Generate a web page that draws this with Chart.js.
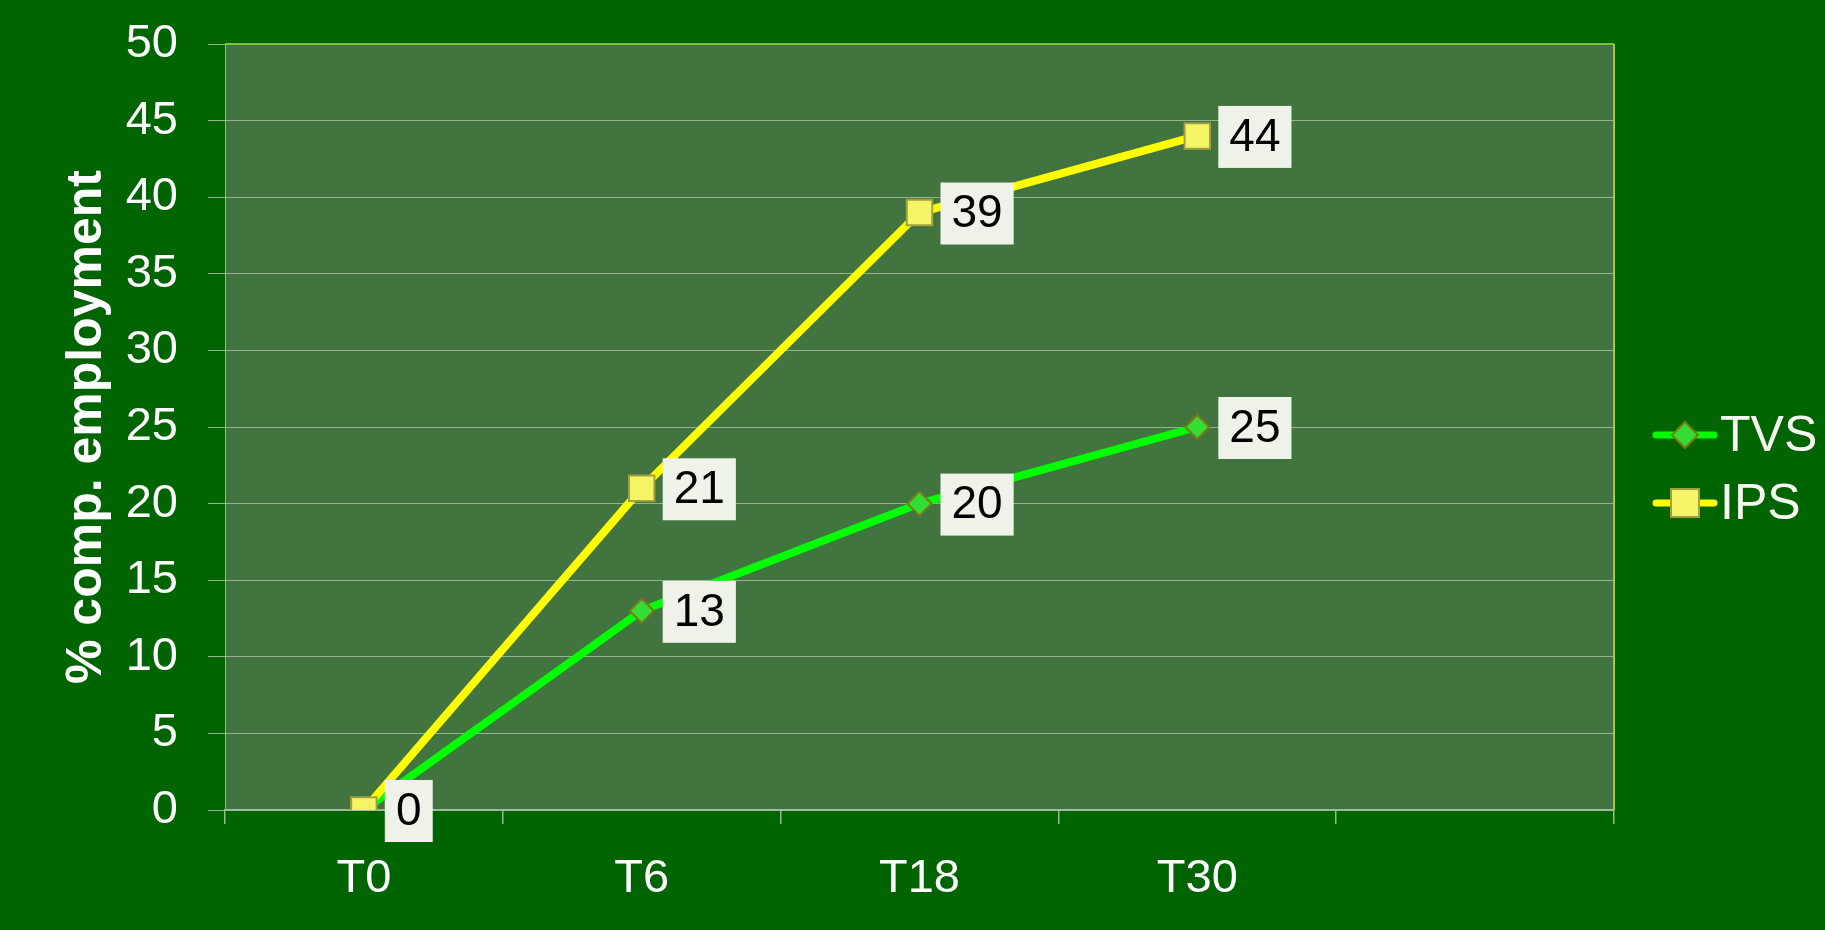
<!DOCTYPE html>
<html>
<head>
<meta charset="utf-8">
<script src="https://cdn.jsdelivr.net/npm/chart.js@4.4.1/dist/chart.umd.min.js"></script>
<style>
  html, body { margin: 0; padding: 0; background: #006400; }
  #wrap { width: 1825px; height: 930px; position: relative; }
</style>
</head>
<body>
<div id="wrap"><canvas id="c"></canvas></div>
<script>
const categories = ['T0', 'T6', 'T18', 'T30', ''];
const tvsValues = [0, 13, 20, 25, null];
const ipsValues = [0, 21, 39, 44, null];
const seriesNames = ['TVS', 'IPS'];
const yAxisTitle = '% comp. employment';

const FONT = '"Liberation Sans", Arial, sans-serif';

const bgPlugin = {
  id: 'bg',
  beforeDraw(chart) {
    const { ctx, chartArea: a } = chart;
    ctx.save();
    ctx.fillStyle = '#006400';
    ctx.fillRect(0, 0, chart.width, chart.height);
    ctx.fillStyle = '#427440';
    ctx.fillRect(a.left, a.top, a.right - a.left, a.bottom - a.top);
    ctx.restore();
  },
  afterDraw(chart) {
    const { ctx, chartArea: a } = chart;
    ctx.save();
    ctx.lineWidth = 2;
    ctx.strokeStyle = '#7cc43c';
    ctx.beginPath();
    ctx.moveTo(a.left, a.top);
    ctx.lineTo(a.right, a.top);
    ctx.stroke();
    ctx.strokeStyle = '#a8c63a';
    ctx.beginPath();
    ctx.moveTo(a.right, a.top);
    ctx.lineTo(a.right, a.bottom);
    ctx.stroke();
    ctx.restore();
  }
};

const labelPlugin = {
  id: 'boxLabels',
  afterDatasetsDraw(chart) {
    const ctx = chart.ctx;
    ctx.save();
    ctx.font = '46px ' + FONT;
    ctx.textBaseline = 'middle';
    ctx.textAlign = 'left';
    chart.data.datasets.forEach((ds, di) => {
      const meta = chart.getDatasetMeta(di);
      meta.data.forEach((pt, i) => {
        const v = ds.data[i];
        if (v === null || v === undefined) return;
        const txt = String(v);
        const w = ctx.measureText(txt).width + 22;
        const h = 62;
        const x0 = pt.x + 21;
        const y0 = pt.y - h / 2 + 1;
        ctx.fillStyle = '#eef2e8';
        ctx.fillRect(x0, y0, w, h);
        ctx.fillStyle = '#000000';
        ctx.fillText(txt, x0 + 11, pt.y + 2);
      });
    });
    ctx.restore();
  }
};

const legendPlugin = {
  id: 'sideLegend',
  afterDraw(chart) {
    const ctx = chart.ctx;
    const a = chart.chartArea;
    const x1 = a.right + 39, x2 = a.right + 103, xm = a.right + 71;
    const rowsY = [435, 503];
    ctx.save();
    chart.data.datasets.forEach((ds, i) => {
      const y = rowsY[i];
      ctx.strokeStyle = ds.borderColor;
      ctx.lineWidth = 7;
      ctx.lineCap = 'round';
      ctx.beginPath();
      ctx.moveTo(x1 + 3, y);
      ctx.lineTo(x2 - 3, y);
      ctx.stroke();
      ctx.fillStyle = ds.pointBackgroundColor;
      ctx.strokeStyle = ds.pointBorderColor;
      ctx.lineWidth = 2;
      ctx.beginPath();
      if (ds.pointStyle === 'rectRot') {
        const r = 13;
        ctx.moveTo(xm - r, y);
        ctx.lineTo(xm, y - r);
        ctx.lineTo(xm + r, y);
        ctx.lineTo(xm, y + r);
        ctx.closePath();
      } else {
        const s = 14;
        ctx.rect(xm - s, y - s, 2 * s, 2 * s);
      }
      ctx.fill();
      ctx.stroke();
      ctx.fillStyle = '#f8f8f2';
      ctx.font = '50px ' + FONT;
      ctx.textBaseline = 'middle';
      ctx.textAlign = 'left';
      ctx.fillText(ds.label, x2 + 3, y + 2);
    });
    ctx.restore();
  }
};

new Chart(document.getElementById('c'), {
  type: 'line',
  data: {
    labels: categories,
    datasets: [
      {
        label: seriesNames[0],
        data: tvsValues,
        order: 1,
        borderColor: '#00ff00',
        borderWidth: 8,
        pointStyle: 'rectRot',
        pointRadius: 12,
        pointHoverRadius: 12,
        pointBackgroundColor: '#33dd33',
        pointBorderColor: '#7a7a1a',
        pointBorderWidth: 2,
        tension: 0,
        spanGaps: false
      },
      {
        label: seriesNames[1],
        data: ipsValues,
        order: 0,
        borderColor: '#ffff00',
        borderWidth: 8,
        pointStyle: 'rect',
        pointRadius: 18,
        pointHoverRadius: 18,
        pointBackgroundColor: '#f4f466',
        pointBorderColor: '#a0a040',
        pointBorderWidth: 2,
        tension: 0,
        spanGaps: false
      }
    ]
  },
  options: {
    responsive: true,
    maintainAspectRatio: false,
    animation: false,
    events: [],
    layout: { padding: { top: 44, right: 211, left: 0, bottom: 0 } },
    plugins: {
      legend: { display: false },
      tooltip: { enabled: false },
      title: { display: false }
    },
    scales: {
      x: {
        offset: true,
        grid: {
          offset: true,
          drawOnChartArea: false,
          drawTicks: true,
          tickLength: 14,
          color: '#8fbf88',
          lineWidth: 1.5
        },
        border: { display: true, color: '#a0bc98', width: 2 },
        ticks: {
          color: '#ffffff',
          font: { family: FONT, size: 47 },
          padding: 27,
          maxRotation: 0,
          autoSkip: false
        },
        afterFit(scale) {
          scale.height = 120;
          scale.paddingLeft = 0;
          scale.paddingRight = 0;
        }
      },
      y: {
        min: 0,
        max: 50,
        grid: {
          color: '#94b390',
          lineWidth: 1,
          drawTicks: true,
          tickLength: 17
        },
        border: { display: true, color: '#9cb898', width: 1 },
        ticks: {
          stepSize: 5,
          color: '#ffffff',
          font: { family: FONT, size: 47 },
          padding: 30
        },
        title: {
          display: true,
          text: yAxisTitle,
          color: '#ffffff',
          font: { family: FONT, size: 50, weight: 'bold' },
          padding: { top: 57, bottom: 0 }
        },
        afterFit(scale) {
          scale.width = 225;
          scale.paddingTop = 0;
          scale.paddingBottom = 0;
        }
      }
    }
  },
  plugins: [bgPlugin, labelPlugin, legendPlugin]
});
</script>
</body>
</html>
